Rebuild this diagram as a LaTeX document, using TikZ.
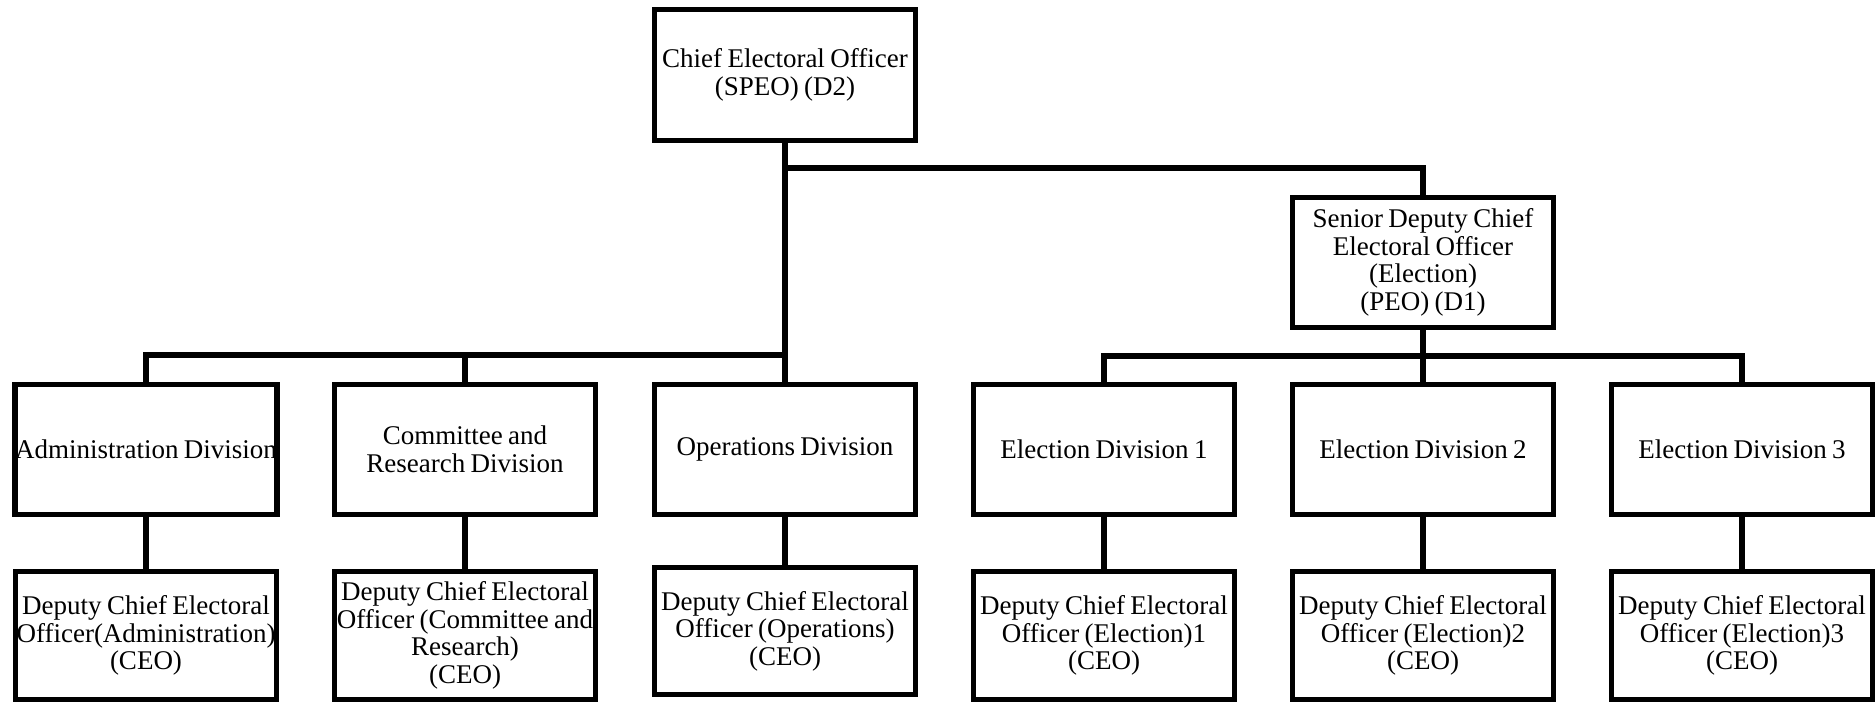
\documentclass[tikz,border=0pt]{standalone}
\usepackage{fontspec}
\setmainfont{Liberation Serif}

\newcommand{\orgfont}{\fontsize{13.5}{13.8}\selectfont\spaceskip 0.2em plus 0.05em\relax}

\tikzset{
  orgbox/.style={draw, line width=2.6pt, align=center, inner sep=0pt,
    minimum width=130.4pt, minimum height=65pt, font=\orgfont},
  link/.style={line width=3pt}
}

\begin{document}
\begin{tikzpicture}[x=0.5pt, y=-0.5pt]
    \useasboundingbox (0,0) rectangle (1876,702);
    % Top level
    \node[orgbox, minimum height=65.4pt] (ceo) at (785,75) {Chief Electoral Officer\\(SPEO) (D2)};
    \node[orgbox] (sdceo) at (1423,262.5) {Senior Deputy Chief\\Electoral Officer\\(Election)\\(PEO) (D1)};

    % Divisions
    \node[orgbox] (adm) at (146,449.5) {Administration Division};
    \node[orgbox] (crd) at (465,449.5) {Committee and\\Research Division};
    \node[orgbox] (ops) at (785,449.5) {Operations Division};
    \node[orgbox] (el1) at (1104,449.5) {Election Division 1};
    \node[orgbox] (el2) at (1423,449.5) {Election Division 2};
    \node[orgbox] (el3) at (1742,449.5) {Election Division 3};

    % Deputy chief electoral officers
    \node[orgbox, minimum height=64pt] (dadm) at (146,635.5) {Deputy Chief Electoral\\Officer(Administration)\\(CEO)};
    \node[orgbox, minimum height=64pt] (dcrd) at (465,635.5) {Deputy Chief Electoral\\Officer (Committee and\\Research)\\(CEO)};
    \node[orgbox, minimum height=63.4pt] (dops) at (785,631) {Deputy Chief Electoral\\Officer (Operations)\\(CEO)};
    \node[orgbox, minimum height=64pt] (del1) at (1104,635.5) {Deputy Chief Electoral\\Officer (Election)1\\(CEO)};
    \node[orgbox, minimum height=64pt] (del2) at (1423,635.5) {Deputy Chief Electoral\\Officer (Election)2\\(CEO)};
    \node[orgbox, minimum height=64pt] (del3) at (1742,635.5) {Deputy Chief Electoral\\Officer (Election)3\\(CEO)};

    % Connectors
    \coordinate (tbus) at (785,168);
    \coordinate (lbus) at (785,355);
    \coordinate (rbus) at (1423,356);
    \draw[link] (ceo.south) -- (ops.north);
    \draw[link] (tbus) -| (sdceo.north);
    \draw[link] (adm.north) |- (lbus);
    \draw[link] (crd.north) |- (lbus);
    \draw[link] (sdceo.south) -- (el2.north);
    \draw[link] (el1.north) |- (rbus) -| (el3.north);
    \foreach \d in {adm,crd,ops,el1,el2,el3}
        \draw[link] (\d.south) -- (d\d.north);
\end{tikzpicture}
\end{document}
